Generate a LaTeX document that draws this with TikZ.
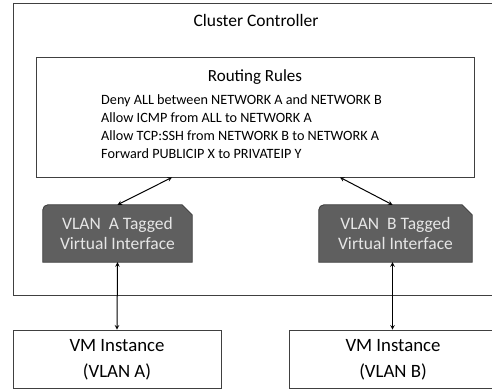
\documentclass[tikz,border=0pt]{standalone}
\usepackage{fontspec}
\setmainfont{Carlito}
\usetikzlibrary{positioning,backgrounds}
\definecolor{vlangray}{HTML}{5F5F5F}
\definecolor{vlanline}{HTML}{3A3A3A}
\definecolor{vlantext}{HTML}{E6E6E6}

\begin{document}
\begin{tikzpicture}[x=1pt,y=-1pt,
  box/.style={draw=black!75, line width=0.8pt},
  vlan/.style={minimum width=149pt, minimum height=57pt, inner sep=0pt, align=center,
    text=vlantext, font=\fontsize{17.5}{20}\selectfont},
  vm/.style={box, minimum width=208pt, minimum height=58pt, inner sep=0pt},
  vmtext/.style={align=center, inner sep=0pt, font=\fontsize{18.8}{25.7}\selectfont},
  link/.style={>=stealth, <->, line width=1pt}]
\useasboundingbox (0,0) rectangle (492,390);
\draw[box] (13,3) -- (13,295) -- (540,295) (13,3) -- (540,3);
\node[anchor=base, font=\fontsize{17.5}{20}\selectfont] (cc) at (256,26.5) {Cluster Controller};
\node[box, minimum width=438pt, minimum height=120pt] (rules) at (255,117) {};
\node[anchor=base, font=\fontsize{17}{20}\selectfont] (title) at (255,81.5) {Routing Rules};
\foreach \t [count=\i] in {Deny ALL between NETWORK A and NETWORK B,
  Allow ICMP from ALL to NETWORK A,
  Allow TCP:SSH from NETWORK B to NETWORK A,
  Forward PUBLICIP X to PRIVATEIP Y}{
\node[anchor=base west, inner sep=0pt, font=\fontsize{14.2}{17}\selectfont] (rule\i) at (101,{105+17.7*(\i-1)}) {\t};}
\node[vlan] (vlanA) at (117.5,233.5) {VLAN\ \ A Tagged\\Virtual Interface};
\node[vlan, minimum width=153pt] (vlanB) at (395.5,233.5) {VLAN\ \ B Tagged\\Virtual Interface};
\begin{scope}[on background layer]
\foreach \v in {vlanA,vlanB}{
\draw[draw=vlanline, fill=vlangray, line width=0.8pt] (\v.south west) [rounded corners=5pt] -- (\v.north west) [sharp corners]
  -- ([xshift=-10pt]\v.north east) -- ([yshift=-10pt]\v.north east) -- (\v.south east) -- cycle;}
\end{scope}
\node[vm] (vmA) at (117,359) {};
\node[vm, minimum width=260pt] (vmB) at (419,359) {};
\node[vmtext] (vmAtext) at (117,360) {VM Instance\\(VLAN A)};
\node[vmtext] (vmBtext) at (393,360) {VM Instance\\(VLAN B)};
\coordinate (ruleA) at ([xshift=-83pt]rules.south);
\coordinate (ruleB) at ([xshift=85pt]rules.south);
\draw[link] (ruleA) -- (vlanA.north);
\draw[link] (ruleB) -- ([xshift=-3pt]vlanB.north);
\draw[link] (vlanA.south) -- (vmA.north);
\draw[link] ([xshift=-3pt]vlanB.south) -- ([xshift=-3pt]vlanB.south |- vmB.north);
\end{tikzpicture}
\end{document}
